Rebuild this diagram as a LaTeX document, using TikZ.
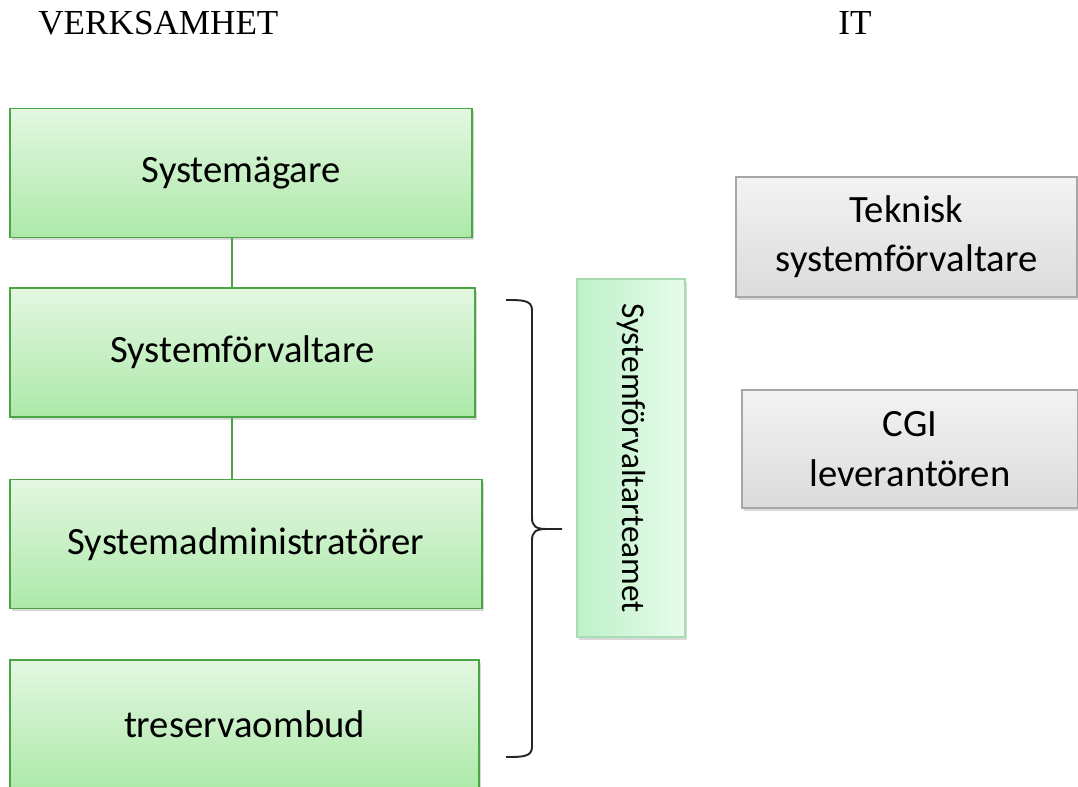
\documentclass[tikz,border=0pt]{standalone}
\usepackage{fontspec}
\setmainfont{Liberation Serif}
\newfontfamily\boxfont{Carlito}
\usepackage{tikz}
\usetikzlibrary{calc}
\usetikzlibrary{shadows}

\definecolor{grtop}{HTML}{E3F7E1}
\definecolor{grbot}{HTML}{ADE9A9}
\definecolor{grline}{HTML}{4AA544}
\definecolor{gytop}{HTML}{F3F3F3}
\definecolor{gybot}{HTML}{DBDBDB}
\definecolor{gyline}{HTML}{A6A6A6}
\definecolor{tmleft}{HTML}{BEF1C8}
\definecolor{tmright}{HTML}{E8FBEC}
\definecolor{tmline}{HTML}{A8DCB2}

\begin{document}
\begin{tikzpicture}[x=0.02cm, y=-0.02cm,
    grbox/.style={rectangle, draw=grline, line width=1.1pt, top color=grtop, bottom color=grbot,
        minimum height=2.58cm, inner sep=0pt, font=\boxfont\fontsize{22}{27}\selectfont,
        drop shadow={shadow xshift=1.2pt, shadow yshift=-1.5pt, opacity=0.3}}]
    \tikzset{gybox/.style={rectangle, draw=gyline, line width=1.1pt, top color=gytop, bottom color=gybot,
        inner sep=0pt, align=center, font=\boxfont\fontsize{22}{28}\selectfont,
        drop shadow={shadow xshift=1.2pt, shadow yshift=-1.5pt, opacity=0.3}}}
    \tikzset{teambox/.style={rectangle, draw=tmline, line width=1.1pt, left color=tmleft, right color=tmright,
        inner sep=0pt, drop shadow={shadow xshift=1.2pt, shadow yshift=-1.5pt, opacity=0.3}}}
    \tikzset{conn/.style={draw=grline, line width=1.1pt}}
    \useasboundingbox (0,0) rectangle (1078,787);

    % headings
    \node[anchor=base west, inner sep=0pt, font=\fontsize{20}{24}\selectfont] (verk) at (38,35) {VERKSAMHET};
    \node[anchor=base west, inner sep=0pt, font=\fontsize{20}{24}\selectfont] (it) at (838,35) {IT};

    % verksamhet column
    \node[grbox, minimum width=9.24cm] (sag) at (241,173) {Systemägare};
    \node[grbox, minimum width=9.30cm] (sfv) at (242.5,352.5) {Systemförvaltare};
    \node[grbox, minimum width=9.44cm] (sadm) at (246,544) {Systemadministratörer};
    \node[grbox, minimum width=9.38cm] (tro) at (244.5,724.5) {treservaombud};

    \coordinate (cx) at (232,0);
    \draw[conn] (sag.south -| cx) -- (sfv.north -| cx);
    \draw[conn] (sfv.south -| cx) -- (sadm.north -| cx);

    % brace
    \draw[line width=1.1pt, black!85]
        (506,300) .. controls (522,300) and (532,300) .. (532,310) -- (532,518)
        .. controls (532,526) and (536,529) .. (546,529) -- (562,529) -- (546,529)
        .. controls (536,529) and (532,532) .. (532,540) -- (532,747)
        .. controls (532,757) and (522,757) .. (506,757);

    \node[teambox, minimum width=2.16cm, minimum height=7.16cm,
        label={[rotate=-90, font=\boxfont\fontsize{19}{23}\selectfont]center:Systemförvaltarteamet}] (team) at (631,458) {};

    % IT column
    \node[gybox, minimum width=6.82cm, minimum height=2.40cm] (tek) at (906.5,237) {Teknisk\\systemförvaltare};
    \node[gybox, minimum width=6.72cm, minimum height=2.36cm] (cgi) at (910,449) {CGI\\leverantören};
\end{tikzpicture}
\end{document}
